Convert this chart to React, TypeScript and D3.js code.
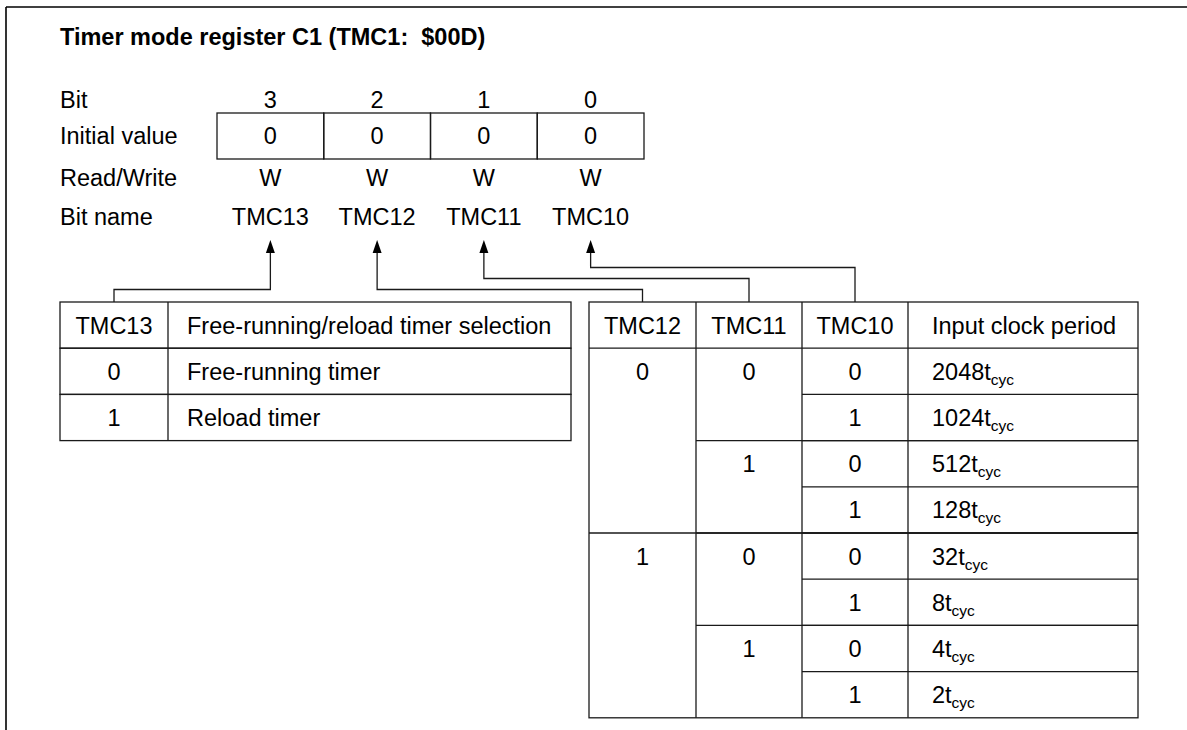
import React from "react";
import * as d3 from "d3";

const title = "Timer mode register C1 (TMC1:  $00D)";
const rowLabels = ["Bit", "Initial value", "Read/Write", "Bit name"];
const bits = ["3", "2", "1", "0"];
const initialValues = ["0", "0", "0", "0"];
const readWrite = ["W", "W", "W", "W"];
const bitNames = ["TMC13", "TMC12", "TMC11", "TMC10"];

const tmc13Header = ["TMC13", "Free-running/reload timer selection"];
const tmc13Values = ["0", "1"];
const tmc13Desc = ["Free-running timer", "Reload timer"];

const clockHeader = ["TMC12", "TMC11", "TMC10", "Input clock period"];
const tmc12Vals = ["0", "0", "0", "0", "1", "1", "1", "1"];
const tmc11Vals = ["0", "0", "1", "1", "0", "0", "1", "1"];
const tmc10Vals = ["0", "1", "0", "1", "0", "1", "0", "1"];
const periodMult = ["2048", "1024", "512", "128", "32", "8", "4", "2"];

const FONT = "'Liberation Sans', Arial, Helvetica, sans-serif";
const FS = 23.5;
const STROKE = "#1a1a1a";
const SW = 1.3;

function groups(vals: string[], parents: string[][]) {
  const out: { start: number; len: number; v: string }[] = [];
  vals.forEach((v, i) => {
    const last = out[out.length - 1];
    const same =
      last && last.v === v && parents.every((p) => p[i] === p[last.start]);
    if (same) last.len += 1;
    else out.push({ start: i, len: 1, v });
  });
  return out;
}

export default function App() {
  const W = 1187;
  const H = 730;
  const regX = d3.scaleBand<string>().domain(bitNames).range([217, 644]);
  const rowY = d3
    .scaleOrdinal<string, number>()
    .domain(rowLabels)
    .range([100, 136, 178, 217]);
  const boxTop = 113;
  const boxBot = 159;
  const tb = (c: number) => c + FS * 0.36;

  const lt = { x0: 60, x1: 168, x2: 571, top: 302 };
  const ltRows = d3.scaleBand<number>().domain([0, 1, 2]).range([302, 440.6]);

  const rtCols = [589, 696, 802, 908, 1138];
  const rtRows = d3.scaleBand<number>().domain(d3.range(9)).range([302, 717.8]);
  const rh = rtRows.bandwidth();

  const colCenter = (i: number) => (rtCols[i] + rtCols[i + 1]) / 2;
  const regCenter = (n: string) => (regX(n) as number) + regX.bandwidth() / 2;

  const connectors = [
    { name: "TMC13", yh: 289.5, tx: (lt.x0 + lt.x1) / 2 },
    { name: "TMC12", yh: 289.5, tx: colCenter(0) },
    { name: "TMC11", yh: 278.5, tx: colCenter(1) },
    { name: "TMC10", yh: 267.5, tx: colCenter(2) },
  ];
  const tipY = 240;

  const g12 = groups(tmc12Vals, []);
  const g11 = groups(tmc11Vals, [tmc12Vals]);
  const tableBottom = rtRows(8)! + rh;

  return (
    <svg
      width={W}
      height={H}
      style={{ position: "absolute", left: 0, top: 0, background: "#fff" }}
      fontFamily={FONT}
    >
      <rect x={0} y={0} width={W} height={H} fill="#fff" />
      <line x1={6} y1={7} x2={W} y2={7} stroke="#000" strokeWidth={1.6} />
      <line x1={6} y1={7} x2={6} y2={H} stroke="#000" strokeWidth={1.6} />

      <text
        x={60}
        y={45}
        fontSize={23.5}
        fontWeight="bold"
        fill="#000"
        style={{ whiteSpace: "pre" }}
      >
        {title}
      </text>

      {rowLabels.map((l) => (
        <text key={l} x={60} y={tb(rowY(l))} fontSize={FS} fill="#000">
          {l}
        </text>
      ))}
      {bitNames.map((n, i) => (
        <g key={n}>
          <text x={regCenter(n)} y={tb(rowY("Bit"))} fontSize={FS} textAnchor="middle">
            {bits[i]}
          </text>
          <rect
            x={regX(n)}
            y={boxTop}
            width={regX.bandwidth()}
            height={boxBot - boxTop}
            fill="none"
            stroke={STROKE}
            strokeWidth={SW}
          />
          <text x={regCenter(n)} y={tb((boxTop + boxBot) / 2)} fontSize={FS} textAnchor="middle">
            {initialValues[i]}
          </text>
          <text x={regCenter(n)} y={tb(rowY("Read/Write"))} fontSize={FS} textAnchor="middle">
            {readWrite[i]}
          </text>
          <text x={regCenter(n)} y={tb(rowY("Bit name"))} fontSize={FS} textAnchor="middle">
            {n}
          </text>
        </g>
      ))}

      {connectors.map((c) => {
        const sx = regCenter(c.name);
        return (
          <g key={c.name}>
            <path
              d={`M${sx},${tipY + 10} V${c.yh} H${c.tx} V302`}
              fill="none"
              stroke={STROKE}
              strokeWidth={SW}
            />
            <path
              d={`M${sx},${tipY} L${sx - 4.5},${tipY + 13} L${sx + 4.5},${tipY + 13} Z`}
              fill="#000"
            />
          </g>
        );
      })}

      <g>
        {[0, 1, 2].map((r) => (
          <rect
            key={r}
            x={lt.x0}
            y={ltRows(r)}
            width={lt.x2 - lt.x0}
            height={ltRows.bandwidth()}
            fill="none"
            stroke={STROKE}
            strokeWidth={SW}
          />
        ))}
        <line x1={lt.x1} x2={lt.x1} y1={lt.top} y2={440.6} stroke={STROKE} strokeWidth={SW} />
        {[tmc13Header, ...tmc13Values.map((v, i) => [v, tmc13Desc[i]])].map((row, r) => {
          const cy = (ltRows(r) as number) + ltRows.bandwidth() / 2;
          return (
            <g key={r}>
              <text x={(lt.x0 + lt.x1) / 2} y={tb(cy)} fontSize={FS} textAnchor="middle">
                {row[0]}
              </text>
              <text x={187} y={tb(cy)} fontSize={FS}>
                {row[1]}
              </text>
            </g>
          );
        })}
      </g>

      <g>
        <rect
          x={rtCols[0]}
          y={rtRows(0)}
          width={rtCols[4] - rtCols[0]}
          height={tableBottom - rtRows(0)!}
          fill="none"
          stroke={STROKE}
          strokeWidth={SW}
        />
        {rtCols.slice(1, 4).map((x) => (
          <line key={x} x1={x} x2={x} y1={rtRows(0)} y2={tableBottom} stroke={STROKE} strokeWidth={SW} />
        ))}
        <line x1={rtCols[0]} x2={rtCols[4]} y1={rtRows(1)} y2={rtRows(1)} stroke={STROKE} strokeWidth={SW} />
        {clockHeader.map((h, i) => (
          <text
            key={h}
            x={i < 3 ? colCenter(i) : 932}
            y={tb(rtRows(0)! + rh / 2)}
            fontSize={FS}
            textAnchor={i < 3 ? "middle" : "start"}
          >
            {h}
          </text>
        ))}
        {g12.map((g, k) => (
          <g key={"g12" + k}>
            {k > 0 && (
              <line x1={rtCols[0]} x2={rtCols[4]} y1={rtRows(g.start + 1)} y2={rtRows(g.start + 1)} stroke={STROKE} strokeWidth={SW} />
            )}
            <text x={colCenter(0)} y={tb(rtRows(g.start + 1)! + rh / 2)} fontSize={FS} textAnchor="middle">
              {g.v}
            </text>
          </g>
        ))}
        {g11.map((g, k) => (
          <g key={"g11" + k}>
            {g.start > 0 && (
              <line x1={rtCols[1]} x2={rtCols[4]} y1={rtRows(g.start + 1)} y2={rtRows(g.start + 1)} stroke={STROKE} strokeWidth={SW} />
            )}
            <text x={colCenter(1)} y={tb(rtRows(g.start + 1)! + rh / 2)} fontSize={FS} textAnchor="middle">
              {g.v}
            </text>
          </g>
        ))}
        {tmc10Vals.map((v, i) => {
          const cy = rtRows(i + 1)! + rh / 2;
          return (
            <g key={"r" + i}>
              {i > 0 && (
                <line x1={rtCols[2]} x2={rtCols[4]} y1={rtRows(i + 1)} y2={rtRows(i + 1)} stroke={STROKE} strokeWidth={SW} />
              )}
              <text x={colCenter(2)} y={tb(cy)} fontSize={FS} textAnchor="middle">
                {v}
              </text>
              <text x={932} y={tb(cy)} fontSize={FS}>
                {periodMult[i]}t
                <tspan fontSize={15.5} dy={5}>
                  cyc
                </tspan>
              </text>
            </g>
          );
        })}
      </g>
    </svg>
  );
}
